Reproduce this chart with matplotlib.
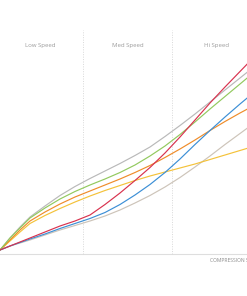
import matplotlib
matplotlib.use("Agg")
import matplotlib.pyplot as plt

# Compression speed (x) vs. value (height above axis)
x = [0, 10, 20, 30, 45, 60, 75, 90, 105, 120, 135, 150, 165, 180, 195, 210, 225, 240, 255]
gray   = [4, 16, 27, 37, 48, 58.5, 67.5, 75.5, 83, 90.5, 98.5, 107, 117.5, 128.5, 140, 152, 164, 176, 188]
green  = [4, 16, 26, 36, 46, 55, 62.5, 69, 75, 81.5, 89, 98, 108, 119.5, 132, 145, 157.5, 170, 182.5]
orange = [4, 14, 24, 33, 42, 50, 57, 63, 69, 75, 81.5, 88.5, 96.5, 105, 114, 123.5, 132.5, 141, 149]
yellow = [4, 13, 22, 30.5, 38.5, 45.5, 52, 58, 63.5, 68.5, 73.5, 78, 82, 86, 90, 94.5, 99, 103.5, 108]
red    = [4, 8, 12, 16, 22, 28, 33, 39, 49.5, 61, 73.5, 86.5, 101, 117, 134, 151, 167, 182.5, 198]
blue   = [4, 8, 11.5, 15, 20, 25.5, 30.5, 35.5, 41.5, 49.5, 59, 69.5, 81.5, 95, 109.5, 123.5, 137, 150, 162.5]
beige  = [4, 8, 11, 14, 19, 24, 28.5, 33, 38, 44, 51, 58.5, 67, 76.5, 87, 98, 109.5, 120.5, 131.5]

zones = ["Low Speed", "Med Speed", "Hi Speed"]
zone_centers = [40, 128, 216]
zone_bounds = [83, 172]
xlabel = "COMPRESSION SPEED"

fig = plt.figure(figsize=(2.47, 2.96), dpi=100)
ax = fig.add_axes([0, 0, 1, 1])
ax.set_xlim(0, 247)
ax.set_ylim(-42, 254)
ax.axis("off")

ax.axhline(0, color="#dedede", lw=0.8, zorder=1)
for b in zone_bounds:
    ax.plot([b, b], [0, 224], color="#d8d8d8", lw=0.7, ls=(0, (1, 1.5)), zorder=1)

for name, c in zip(zones, zone_centers):
    ax.text(c, 208, name, ha="center", va="center", fontsize=4.3,
            family="Open Sans", color="#9a9a9a")

ax.text(210, -7, xlabel, ha="left", va="center", fontsize=3.6,
        family="Open Sans", color="#8a8a8a")

series = [(beige, "#cdc4b9"), (gray, "#b9b9b9"), (yellow, "#f4c23a"),
          (orange, "#ef8c2a"), (green, "#92c95e"), (blue, "#3c8fd6"),
          (red, "#d8324e")]
for ys, col in series:
    ax.plot(x, ys, color=col, lw=0.85, solid_capstyle="round",
            solid_joinstyle="round", zorder=3)

fig.savefig("out.png", dpi=100)
